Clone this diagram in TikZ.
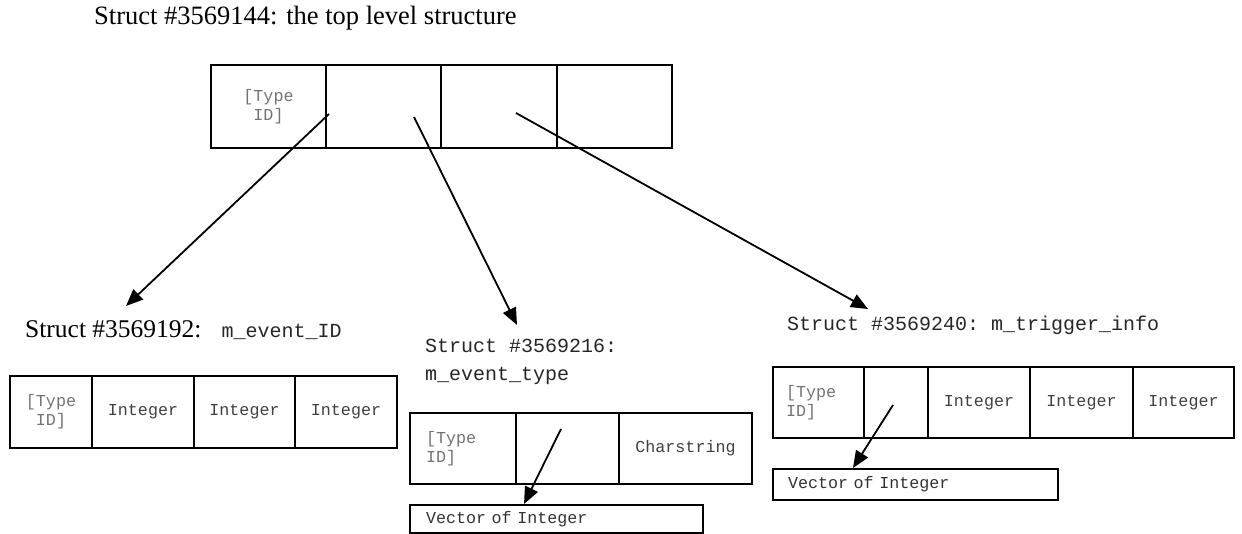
\documentclass[tikz,border=0pt]{standalone}
\usepackage{fontspec}
\setmainfont{Liberation Serif}
\setmonofont{Liberation Mono}
\usetikzlibrary{arrows.meta}

\begin{document}
\begin{tikzpicture}[x=1pt, y=-1pt,
    cell/.style={draw, line width=2pt, anchor=north west, inner sep=0pt,
      font=\ttfamily\fontsize{16.7}{19}\selectfont, text=black!75},
    tid/.style={text=black!55, align=center},
    vec/.style={cell, align=left, inner xsep=16pt, text=black!80},
    ptr/.style={line width=1.8pt, -{Triangle[length=17pt,width=14pt]}},
    lbl/.style={anchor=base west, inner sep=0pt,
      font=\ttfamily\fontsize{20}{28}\selectfont, text=black!85}]

    \useasboundingbox (0,0) rectangle (1242,534);

    % top level struct
    \node[anchor=base west, inner sep=0pt, font=\fontsize{26.5}{30}\selectfont]
      at (94,25) (title) {Struct \#3569144: the top level structure};
    \node[cell, tid, minimum width=115, minimum height=83] at (210,64) (top0) {[Type\\ID]};
    \node[cell, minimum width=115, minimum height=83] at (325,64) (top1) {};
    \node[cell, minimum width=116, minimum height=83] at (440,64) (top2) {};
    \node[cell, minimum width=115, minimum height=83] at (556,64) (top3) {};

    % m_event_ID
    \node[anchor=base west, inner sep=0pt, font=\fontsize{25.5}{30}\selectfont]
      at (25,338) (evlbl) {Struct \#3569192:\hspace{20pt}{\ttfamily\fontsize{20}{24}\selectfont\color{black!85}m\_event\_ID}};
    \node[cell, tid, minimum width=82, minimum height=72] at (9,375) (ev0) {[Type\\ID]};
    \node[cell, minimum width=102, minimum height=72] at (91,375) (ev1) {Integer};
    \node[cell, minimum width=101, minimum height=72] at (193,375) (ev2) {Integer};
    \node[cell, minimum width=102, minimum height=72] at (294,375) (ev3) {Integer};

    % m_event_type
    \node[lbl, align=left] at (425,381) (tylbl) {Struct \#3569216:\\m\_event\_type};
    \node[cell, text=black!55, align=left, text width=74, inner xsep=16, minimum width=106, minimum height=71] at (409,412) (ty0) {[Type\\ID]};
    \node[cell, minimum width=103, minimum height=71] at (515,412) (ty1) {};
    \node[cell, minimum width=133, minimum height=71] at (618,412) (ty2) {Charstring};
    \node[vec, text width=261, minimum width=293, minimum height=28] at (409,504) (vec1) {Vector of Integer};

    % m_trigger_info
    \node[lbl] at (787,331) (trlbl) {Struct \#3569240: m\_trigger\_info};
    \node[cell, text=black!55, align=left, text width=65, inner xsep=13, minimum width=91, minimum height=71] at (772,366) (tr0) {[Type\\ID]};
    \node[cell, minimum width=64, minimum height=71] at (863,366) (tr1) {};
    \node[cell, minimum width=102, minimum height=71] at (927,366) (tr2) {Integer};
    \node[cell, minimum width=103, minimum height=71] at (1029,366) (tr3) {Integer};
    \node[cell, minimum width=101, minimum height=71] at (1132,366) (tr4) {Integer};
    \node[vec, text width=255, inner xsep=15, minimum width=285, minimum height=31] at (772,468) (vec2) {Vector of Integer};

    % pointers
    \coordinate (p1) at (329,114);
    \coordinate (p2) at (414,117);
    \coordinate (p3) at (516,113);
    \coordinate (p4) at (561,429);
    \coordinate (p5) at (893,405);
    \coordinate (q1) at (126,306);
    \coordinate (q2) at (517,325);
    \coordinate (q3) at (868,309);
    \coordinate (q4) at (524,504);
    \coordinate (q5) at (853,468);

    \draw[ptr] (p1) -- (q1);
    \draw[ptr] (p2) -- (q2);
    \draw[ptr] (p3) -- (q3);
    \draw[ptr] (p4) -- (q4);
    \draw[ptr] (p5) -- (q5);

\end{tikzpicture}
\end{document}
